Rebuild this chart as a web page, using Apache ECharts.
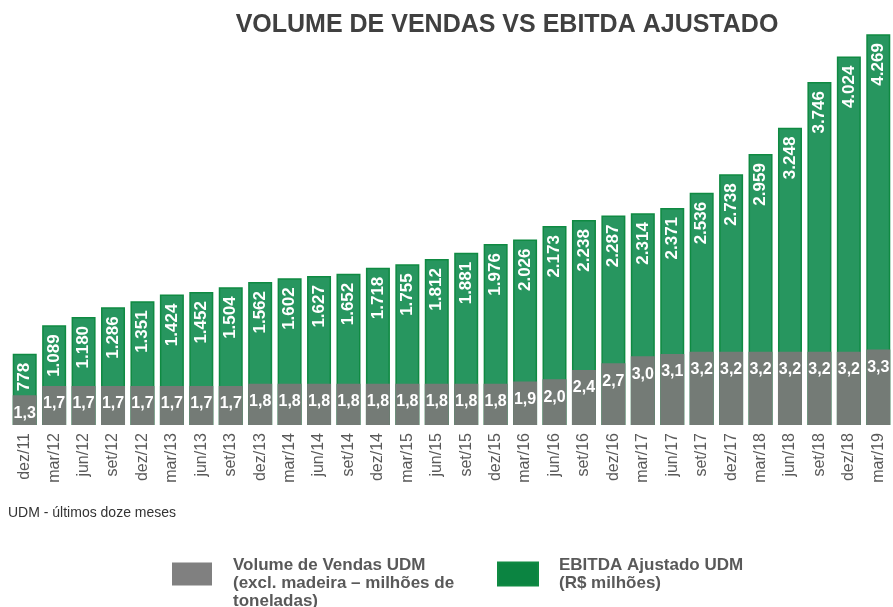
<!DOCTYPE html>
<html>
<head>
<meta charset="utf-8">
<script src="https://cdn.jsdelivr.net/npm/echarts@6/dist/echarts.min.js"></script>
<style>
  html, body { margin: 0; padding: 0; background: #fff; }
  #main { width: 893px; height: 607px; }
</style>
</head>
<body>
<div id="main"></div>
<script>
var periods = ['dez/11', 'mar/12', 'jun/12', 'set/12', 'dez/12', 'mar/13', 'jun/13', 'set/13',
  'dez/13', 'mar/14', 'jun/14', 'set/14', 'dez/14', 'mar/15', 'jun/15', 'set/15', 'dez/15',
  'mar/16', 'jun/16', 'set/16', 'dez/16', 'mar/17', 'jun/17', 'set/17', 'dez/17', 'mar/18',
  'jun/18', 'set/18', 'dez/18', 'mar/19'];

var ebitda = [778, 1089, 1180, 1286, 1351, 1424, 1452, 1504, 1562, 1602, 1627, 1652, 1718,
  1755, 1812, 1881, 1976, 2026, 2173, 2238, 2287, 2314, 2371, 2536, 2738, 2959, 3248, 3746,
  4024, 4269];

var volume = [1.3, 1.7, 1.7, 1.7, 1.7, 1.7, 1.7, 1.7, 1.8, 1.8, 1.8, 1.8, 1.8, 1.8, 1.8, 1.8,
  1.8, 1.9, 2.0, 2.4, 2.7, 3.0, 3.1, 3.2, 3.2, 3.2, 3.2, 3.2, 3.2, 3.3];

var volumeName = 'Volume de Vendas UDM\n(excl. madeira – milhões de\ntoneladas)';
var ebitdaName = 'EBITDA Ajustado UDM\n(R$ milhões)';

var myChart = echarts.init(document.getElementById('main'), null, {
  width: 893,
  height: 607,
});

function thousands(v) {
  return String(v).replace(/\B(?=(\d{3})+(?!\d))/g, '.');
}

var legendText = {
  color: '#595959',
  fontFamily: 'Liberation Sans, Arial',
  fontWeight: 'bold',
  fontSize: 17,
  lineHeight: 18,
  padding: [0, 0, 0, 16],
};

let option = {
  animation: false,
  title: [
    {
      text: 'VOLUME DE VENDAS VS EBITDA AJUSTADO',
      left: 502,
      textAlign: 'center',
      top: 8,
      textStyle: {
        color: '#404040',
        fontFamily: 'Liberation Sans, Arial',
        fontWeight: 'bold',
        fontSize: 25,
      },
    },
    {
      text: 'UDM - últimos doze meses',
      left: 8,
      top: 506,
      padding: 0,
      textStyle: {
        color: '#333',
        fontFamily: 'Liberation Sans Narrow, Arial Narrow, Liberation Sans',
        fontWeight: 'normal',
        fontSize: 14,
      },
    },
  ],
  legend: [
    {
      data: [{ name: volumeName, itemStyle: { color: '#808080' } }],
      left: 172,
      top: 538,
      padding: 0,
      icon: 'rect',
      itemWidth: 40,
      itemHeight: 23,
      textStyle: legendText,
      // blank first line pushes the three text lines below the square
      formatter: function (name) {
        return '\n' + name;
      },
    },
    {
      data: [{ name: ebitdaName, itemStyle: { color: '#0B8441' } }],
      left: 497,
      top: 556,
      padding: 0,
      icon: 'rect',
      itemWidth: 40,
      itemHeight: 23,
      textStyle: legendText,
    },
  ],
  grid: {
    left: 10,
    right: -5,
    top: 13,
    bottom: 182,
  },
  xAxis: {
    type: 'category',
    data: periods,
    axisLine: { show: false },
    axisTick: { show: false },
    axisLabel: {
      rotate: 90,
      margin: 8,
      color: '#595959',
      fontFamily: 'Liberation Sans, Arial',
      fontSize: 16,
    },
  },
  yAxis: [
    {
      type: 'value',
      min: 0,
      max: 4500,
      show: false,
      splitLine: { show: false },
    },
    {
      type: 'value',
      min: 0,
      max: 18,
      show: false,
      splitLine: { show: false },
    },
  ],
  series: [
    {
      name: ebitdaName,
      type: 'bar',
      yAxisIndex: 0,
      barWidth: 24,
      barGap: '-100%',
      itemStyle: {
        color: '#27965F',
        borderColor: '#0F8A42',
        borderWidth: 1.5,
      },
      label: {
        show: true,
        position: 'insideTop',
        rotate: 90,
        align: 'right',
        verticalAlign: 'middle',
        distance: 9,
        color: '#fff',
        fontFamily: 'Liberation Sans, Arial',
        fontWeight: 'bold',
        fontSize: 17,
        formatter: function (p) {
          return thousands(p.value);
        },
      },
      data: ebitda,
    },
    {
      name: volumeName,
      type: 'bar',
      yAxisIndex: 1,
      barWidth: 24,
      barGap: '-100%',
      itemStyle: {
        color: '#747B76',
      },
      label: {
        show: true,
        position: 'insideTop',
        distance: 10,
        color: '#fff',
        fontFamily: 'Liberation Sans, Arial',
        fontWeight: 'bold',
        fontSize: 16,
        formatter: function (p) {
          return String(p.value.toFixed(1)).replace('.', ',');
        },
      },
      data: volume,
    },
  ],
};

myChart.setOption(option);
</script>
</body>
</html>
